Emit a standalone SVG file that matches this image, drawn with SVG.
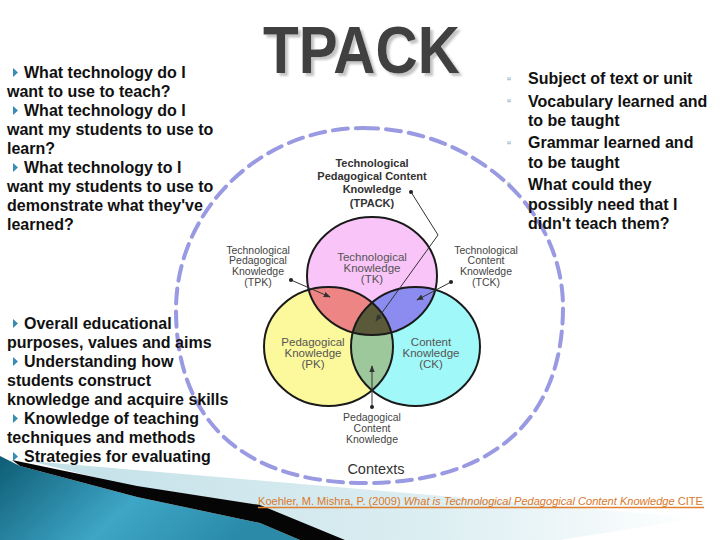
<svg xmlns="http://www.w3.org/2000/svg" width="720" height="540" viewBox="0 0 720 540">
<defs>
<style>
.bt{font-family:"Liberation Sans",Arial,sans-serif;font-weight:bold;font-size:16px;fill:#111}
.vl{font-family:"Liberation Sans",Arial,sans-serif;font-size:10.5px;fill:#444;text-anchor:middle}
.vm{font-family:"Liberation Sans",Arial,sans-serif;font-size:11.5px;fill:#555;text-anchor:middle}
.vb{font-family:"Liberation Sans",Arial,sans-serif;font-size:11px;font-weight:bold;fill:#333;text-anchor:middle}
.ring{fill:none;stroke:#1a1a1a;stroke-width:2}
.con{fill:none;stroke:#333;stroke-width:1}
.dot{fill:#222}
.tri{fill:#3a8cb0}
.qm{font-family:"Liberation Sans",Arial,sans-serif;font-size:12px;fill:#8ea4b4}
</style>
<filter id="sh" x="-10%" y="-10%" width="130%" height="140%"><feDropShadow dx="3" dy="3" stdDeviation="0.8" flood-color="#c4c4c4" flood-opacity="1"/></filter>
<marker id="ah" viewBox="0 0 10 10" refX="9" refY="5" markerWidth="7" markerHeight="7" orient="auto"><path d="M0,1 L10,5 L0,9 z" fill="#333"/></marker>
<clipPath id="cTK"><ellipse cx="372" cy="276" rx="65" ry="59"/></clipPath>
<clipPath id="cPK"><ellipse cx="328.5" cy="346.5" rx="64.5" ry="59.5"/></clipPath>
<linearGradient id="teal" x1="0" y1="0" x2="1" y2="0.3">
<stop offset="0" stop-color="#0e5c74"/><stop offset="0.55" stop-color="#3ea6c6"/><stop offset="1" stop-color="#2a8aa8"/>
</linearGradient>
<linearGradient id="lite" x1="0" y1="0" x2="1" y2="0">
<stop offset="0" stop-color="#c2e0e8"/><stop offset="0.6" stop-color="#dceef2"/><stop offset="1" stop-color="#ffffff"/>
</linearGradient>
</defs>
<rect width="720" height="540" fill="#ffffff"/>

<g id="wedge">
<polygon points="30,461 700,518 560,540 345,540" fill="url(#lite)"/>
<polygon points="0,456 20,466 137,497 260,523 300,540 0,540" fill="url(#teal)"/>
<polygon points="12,460 137,486 260,505 345,540 300,540 260,523 137,497 20,466" fill="#050505"/>
</g>

<g id="contexts">
<path d="M363,128 C473,128 563,209 563,307 C563,420 492,483 365,483 C244,483 176,421 176,310 C176,210 260,128 363,128 Z" fill="none" stroke="#9a9ae2" stroke-width="4" stroke-dasharray="15 8" stroke-linecap="round"/>
<text x="376" y="474" style="font-family:'Liberation Sans',Arial,sans-serif;font-size:14.5px;fill:#333;text-anchor:middle">Contexts</text>
</g>

<g id="venn">
<ellipse cx="372" cy="276" rx="65" ry="59" fill="#f9c4f8"/>
<ellipse cx="328.5" cy="346.5" rx="64.5" ry="59.5" fill="#fcf89c"/>
<ellipse cx="415.5" cy="346.5" rx="64.5" ry="59.5" fill="#a0f8f8"/>
<g clip-path="url(#cTK)">
<ellipse cx="328.5" cy="346.5" rx="64.5" ry="59.5" fill="#ee8585"/>
<ellipse cx="415.5" cy="346.5" rx="64.5" ry="59.5" fill="#8c8cf0"/>
</g>
<g clip-path="url(#cPK)"><ellipse cx="415.5" cy="346.5" rx="64.5" ry="59.5" fill="#9cc89c"/></g>
<g clip-path="url(#cTK)"><g clip-path="url(#cPK)"><ellipse cx="415.5" cy="346.5" rx="64.5" ry="59.5" fill="#5a5a3a"/></g></g>
<ellipse class="ring" cx="372" cy="276" rx="65" ry="59"/>
<ellipse class="ring" cx="328.5" cy="346.5" rx="64.5" ry="59.5"/>
<ellipse class="ring" cx="415.5" cy="346.5" rx="64.5" ry="59.5"/>
</g>

<g id="TK"><text class="vm"><tspan x="372" y="261">Technological</tspan><tspan x="372" y="272">Knowledge</tspan><tspan x="372" y="283">(TK)</tspan></text></g>
<g id="PK"><text class="vm"><tspan x="313" y="346">Pedagogical</tspan><tspan x="313" y="357">Knowledge</tspan><tspan x="313" y="368">(PK)</tspan></text></g>
<g id="CK"><text class="vm"><tspan x="431" y="346">Content</tspan><tspan x="431" y="357">Knowledge</tspan><tspan x="431" y="368">(CK)</tspan></text></g>
<g id="TPACK-label"><text class="vb"><tspan x="372" y="167">Technological</tspan><tspan x="372" y="180">Pedagogical Content</tspan><tspan x="372" y="193">Knowledge</tspan><tspan x="372" y="207">(TPACK)</tspan></text></g>
<g id="TPK"><text class="vl"><tspan x="258" y="253.5">Technological</tspan><tspan x="258" y="264">Pedagogical</tspan><tspan x="258" y="274.5">Knowledge</tspan><tspan x="258" y="285.5">(TPK)</tspan></text></g>
<g id="TCK"><text class="vl"><tspan x="486" y="253.5">Technological</tspan><tspan x="486" y="264">Content</tspan><tspan x="486" y="274.5">Knowledge</tspan><tspan x="486" y="285.5">(TCK)</tspan></text></g>
<g id="PCK"><text class="vl"><tspan x="372" y="421">Pedagogical</tspan><tspan x="372" y="432">Content</tspan><tspan x="372" y="443">Knowledge</tspan></text></g>

<g id="connectors">
<polyline class="con" points="411,192 438,235 376,321" marker-end="url(#ah)"/>
<line class="con" x1="291" y1="280" x2="330" y2="297" marker-end="url(#ah)"/>
<line class="con" x1="451" y1="282" x2="417" y2="300" marker-end="url(#ah)"/>
<line class="con" x1="372" y1="407" x2="372" y2="366" marker-end="url(#ah)"/>
<circle class="dot" cx="411" cy="192" r="2"/>
<circle class="dot" cx="291" cy="280" r="2"/>
<circle class="dot" cx="451" cy="282" r="2"/>
<circle class="dot" cx="372" cy="407" r="2"/>
</g>

<g id="title">
<text x="263" y="73" textLength="197" lengthAdjust="spacingAndGlyphs" filter="url(#sh)" style="font-family:'Liberation Sans',Arial,sans-serif;font-weight:bold;font-size:66px;fill:#404040">TPACK</text>
</g>

<g id="tech-questions">
<polygon class="tri" points="13,68 13,77 18,72.5"/>
<polygon class="tri" points="13,106 13,115 18,110.5"/>
<polygon class="tri" points="13,163 13,172 18,167.5"/>
<text class="bt">
<tspan x="24" y="78">What technology do I</tspan>
<tspan x="7" y="97">want to use to teach?</tspan>
<tspan x="24" y="116">What technology do I</tspan>
<tspan x="7" y="135">want my students to use to</tspan>
<tspan x="7" y="154">learn?</tspan>
<tspan x="24" y="173">What technology to I</tspan>
<tspan x="7" y="192">want my students to use to</tspan>
<tspan x="7" y="211">demonstrate what they've</tspan>
<tspan x="7" y="230">learned?</tspan>
</text>
</g>

<g id="pedagogy-list">
<polygon class="tri" points="13,319 13,328 18,323.5"/>
<polygon class="tri" points="13,357 13,366 18,361.5"/>
<polygon class="tri" points="13,414 13,423 18,418.5"/>
<polygon class="tri" points="13,452 13,461 18,456.5"/>
<text class="bt">
<tspan x="24" y="329">Overall educational</tspan>
<tspan x="7" y="348">purposes, values and aims</tspan>
<tspan x="24" y="367">Understanding how</tspan>
<tspan x="7" y="386">students construct</tspan>
<tspan x="7" y="405">knowledge and acquire skills</tspan>
<tspan x="24" y="424">Knowledge of teaching</tspan>
<tspan x="7" y="443">techniques and methods</tspan>
<tspan x="24" y="462">Strategies for evaluating</tspan>
</text>
</g>

<g id="content-list">
<text class="qm" x="507" y="86">“</text>
<text class="qm" x="507" y="108">“</text>
<text class="qm" x="507" y="150">“</text>
<text class="qm" x="507" y="191">“</text>
<text class="bt">
<tspan x="528" y="84">Subject of text or unit</tspan>
<tspan x="528" y="107">Vocabulary learned and</tspan>
<tspan x="528" y="126">to be taught</tspan>
<tspan x="528" y="148">Grammar learned and</tspan>
<tspan x="528" y="168">to be taught</tspan>
<tspan x="528" y="190">What could they</tspan>
<tspan x="528" y="210">possibly need that I</tspan>
<tspan x="528" y="229">didn't teach them?</tspan>
</text>
</g>

<g id="citation">
<text x="258" y="505" textLength="445" lengthAdjust="spacingAndGlyphs" style="font-family:'Liberation Sans',Arial,sans-serif;font-size:11px;fill:#d9782a">Koehler, M. Mishra, P. (2009) <tspan font-style="italic">What is Technological Pedagogical Content Knowledge</tspan> CITE</text>
<line x1="258" y1="507.5" x2="704" y2="507.5" stroke="#e08030" stroke-width="1.3"/>
</g>
</svg>
